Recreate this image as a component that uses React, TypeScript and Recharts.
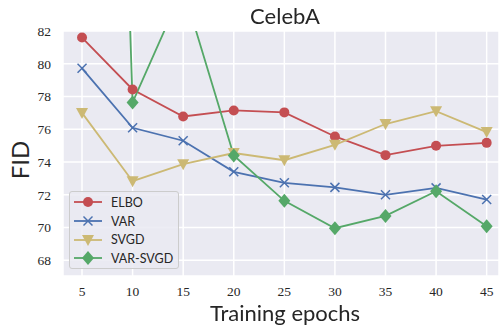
import React from "react";
import { CartesianGrid, Line, LineChart, XAxis, YAxis } from "recharts";

const epochs = [5, 10, 15, 20, 25, 30, 35, 40, 45];
const elbo = [81.6, 78.43, 76.78, 77.15, 77.03, 75.56, 74.42, 74.99, 75.17];
const varFid = [79.72, 76.09, 75.3, 73.4, 72.73, 72.45, 72.0, 72.42, 71.71];
const svgd = [77.0, 72.83, 73.87, 74.55, 74.11, 75.05, 76.32, 77.1, 75.83];
const varSvgd = [170, 77.64, 84.6, 74.4, 71.63, 69.96, 70.71, 72.22, 70.08];
const yTicks = [68, 70, 72, 74, 76, 78, 80, 82];

const data = epochs.map((e, i) => ({
  epoch: e,
  elbo: elbo[i],
  var: varFid[i],
  svgd: svgd[i],
  varSvgd: varSvgd[i],
}));

const series = [
  { key: "elbo", name: "ELBO", color: "#C44E52", marker: "circle" },
  { key: "var", name: "VAR", color: "#4C72B0", marker: "x" },
  { key: "svgd", name: "SVGD", color: "#CCB974", marker: "tri" },
  { key: "varSvgd", name: "VAR-SVGD", color: "#55A868", marker: "diamond" },
];

const labelFont = "Lato, sans-serif";
const tickStyle = { fill: "#262626", fontSize: 13.5, fontFamily: "Liberation Serif, serif" };

function Marker({ kind, x, y, color }: { kind: string; x: number; y: number; color: string }) {
  if (kind === "circle") return <circle cx={x} cy={y} r={5} fill={color} />;
  if (kind === "x")
    return (
      <g stroke={color} strokeWidth={1.5}>
        <line x1={x - 4.5} y1={y - 4.5} x2={x + 4.5} y2={y + 4.5} />
        <line x1={x - 4.5} y1={y + 4.5} x2={x + 4.5} y2={y - 4.5} />
      </g>
    );
  if (kind === "tri")
    return <polygon points={`${x - 6},${y - 5} ${x + 6},${y - 5} ${x},${y + 6}`} fill={color} />;
  return <polygon points={`${x},${y - 7} ${x + 6},${y} ${x},${y + 7} ${x - 6},${y}`} fill={color} />;
}

const makeDot = (kind: string, color: string) => (p: any) => {
  if (p.value > 82 || p.cy == null) return <g key={`d-${p.index}`} />;
  return (
    <g key={`d-${p.index}`}>
      <Marker kind={kind} x={p.cx} y={p.cy} color={color} />
    </g>
  );
};

function LegendBox() {
  return (
    <div
      style={{
        position: "absolute",
        left: 69,
        top: 191,
        background: "rgba(234,234,242,0.85)",
        border: "1px solid #cccccc",
        borderRadius: 3,
        padding: "1px 5px 0px 3px",
        fontFamily: labelFont,
        fontSize: 12.5,
        color: "#262626",
        whiteSpace: "nowrap",
      }}
    >
      {series.map((s) => (
        <div key={s.key} style={{ display: "flex", alignItems: "center", height: 18.7 }}>
          <svg width={30} height={14} style={{ marginRight: 8 }}>
            <line x1={1} y1={7} x2={29} y2={7} stroke={s.color} strokeWidth={1.8} />
            <Marker kind={s.marker} x={15} y={7} color={s.color} />
          </svg>
          <span>{s.name}</span>
        </div>
      ))}
    </div>
  );
}

export default function App() {
  return (
    <div style={{ position: "fixed", left: 0, top: 0, width: 499, height: 325, background: "#fff" }}>
      <LineChart
        width={499}
        height={325}
        data={data}
        margin={{ top: 31, right: 0, bottom: 29, left: 0 }}
        style={{ position: "absolute", left: 0, top: 0 }}
      >
        <CartesianGrid fill="#EAEAF2" stroke="#ffffff" strokeWidth={1.5} />
        <XAxis
          dataKey="epoch"
          type="number"
          domain={[3.12, 46.22]}
          ticks={epochs}
          interval={0}
          allowDataOverflow
          height={20}
          axisLine={false}
          tickLine={false}
          tickMargin={4}
          tick={tickStyle}
        />
        <YAxis
          type="number"
          domain={[67.04, 82]}
          ticks={yTicks}
          interval={0}
          allowDataOverflow
          width={63}
          axisLine={false}
          tickLine={false}
          tickMargin={6}
          tick={tickStyle}
        />
        {series.map((s) => (
          <Line
            key={s.key}
            dataKey={s.key}
            name={s.name}
            type="linear"
            stroke={s.color}
            strokeWidth={1.8}
            dot={makeDot(s.marker, s.color)}
            activeDot={false}
            isAnimationActive={false}
          />
        ))}
      </LineChart>
      <div
        style={{
          position: "absolute",
          left: 0,
          width: 570,
          top: 5,
          lineHeight: 1,
          textAlign: "center",
          fontFamily: labelFont,
          fontSize: 22,
          color: "#262626",
        }}
      >
        CelebA
      </div>
      <div
        style={{
          position: "absolute",
          left: 0,
          width: 570,
          top: 302,
          lineHeight: 1,
          textAlign: "center",
          fontFamily: labelFont,
          fontSize: 22,
          color: "#262626",
        }}
      >
        Training epochs
      </div>
      <div
        style={{
          position: "absolute",
          left: 20,
          top: 160,
          lineHeight: 1,
          transform: "translate(-50%, -50%) rotate(-90deg)",
          fontFamily: labelFont,
          fontSize: 24,
          color: "#262626",
        }}
      >
        FID
      </div>
      <LegendBox />
    </div>
  );
}
